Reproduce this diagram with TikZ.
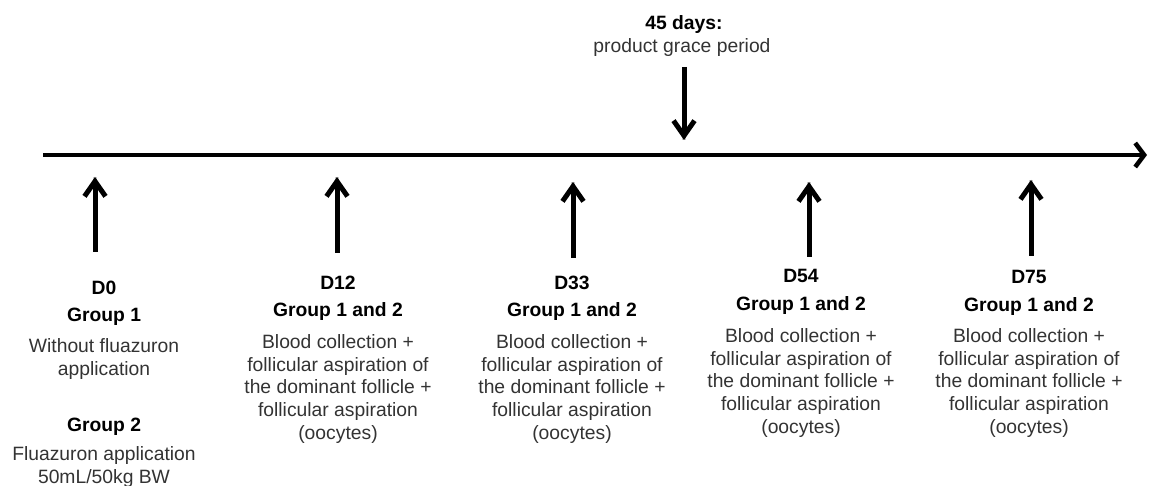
\documentclass[tikz,border=0pt]{standalone}
\usepackage{fontspec}
\setmainfont{Liberation Sans}
\usetikzlibrary{arrows.meta}
\definecolor{bodygray}{HTML}{333333}
\tikzset{
  txt/.style={inner sep=0pt, align=center, font=\fontsize{19.3}{22.8}\selectfont, text=bodygray},
  ttl/.style={inner sep=0pt, align=center, font=\fontsize{19.3}{23}\selectfont\bfseries, text=black},
  arr/.style={line width=5pt, -{Straight Barb[length=15pt,width=21pt]}, black},
  tlarr/.style={line width=4.5pt, -{Straight Barb[length=9pt,width=24pt]}, black},
  shad/.style={line width=4pt, black!20, shift={(1.5,2.5)}},
}
\begin{document}
\begin{tikzpicture}[x=1pt,y=-1pt]
\useasboundingbox (0,0) rectangle (1151,486);
% coordinates
\coordinate (tlS) at (43,155);
\coordinate (tlE) at (1147,155);
\coordinate (gpT) at (684,67);
\coordinate (gpB) at (684,140);
\coordinate (a0b) at (95,252);   \coordinate (a0t) at (95,177);
\coordinate (a12b) at (337,253); \coordinate (a12t) at (337,177);
\coordinate (a33b) at (573,258); \coordinate (a33t) at (573,182);
\coordinate (a54b) at (809,257); \coordinate (a54t) at (809,182);
\coordinate (a75b) at (1031,256);\coordinate (a75t) at (1031,180);
% shadows
\draw[shad] (tlS) -- ([xshift=-4pt]tlE);
\foreach \b/\t in {gpT/gpB,a0b/a0t,a12b/a12t,a33b/a33t,a54b/a54t,a75b/a75t}
  \draw[shad] (\b) -- (\t);
% timeline and arrows
\draw[tlarr] (tlS) -- (tlE);
\draw[arr] (gpT) -- (gpB);
\draw[arr] (a0b) -- (a0t);
\draw[arr] (a12b) -- (a12t);
\draw[arr] (a33b) -- (a33t);
\draw[arr] (a54b) -- (a54t);
\draw[arr] (a75b) -- (a75t);
% top label
\node[ttl] (gpTitle) at (684,25) {45 days:};
\node[txt] (gpText) at (682,48) {product grace period};
% D0
\node[ttl] (d0) at (104,288) {D0};
\node[ttl] (d0g1) at (104,317) {Group 1};
\node[txt] (d0b1) at (104,359) {Without fluazuron\\application};
\node[ttl] (d0g2) at (104,427) {Group 2};
\node[txt] (d0b2) at (104,467) {Fluazuron application\\50mL/50kg BW};
% D12
\node[ttl] (d12) at (338,283) {D12};
\node[ttl] (d12g) at (338,312) {Group 1 and 2};
\node[txt] (d12b) at (338,389) {Blood collection +\\follicular aspiration of\\the dominant follicle +\\follicular aspiration\\(oocytes)};
% D33
\node[ttl] (d33) at (572,283) {D33};
\node[ttl] (d33g) at (572,312) {Group 1 and 2};
\node[txt] (d33b) at (572,389) {Blood collection +\\follicular aspiration of\\the dominant follicle +\\follicular aspiration\\(oocytes)};
% D54
\node[ttl] (d54) at (801,276) {D54};
\node[ttl] (d54g) at (801,306) {Group 1 and 2};
\node[txt] (d54b) at (801,383) {Blood collection +\\follicular aspiration of\\the dominant follicle +\\follicular aspiration\\(oocytes)};
% D75
\node[ttl] (d75) at (1029,277) {D75};
\node[ttl] (d75g) at (1029,307) {Group 1 and 2};
\node[txt] (d75b) at (1029,383) {Blood collection +\\follicular aspiration of\\the dominant follicle +\\follicular aspiration\\(oocytes)};
\end{tikzpicture}
\end{document}
